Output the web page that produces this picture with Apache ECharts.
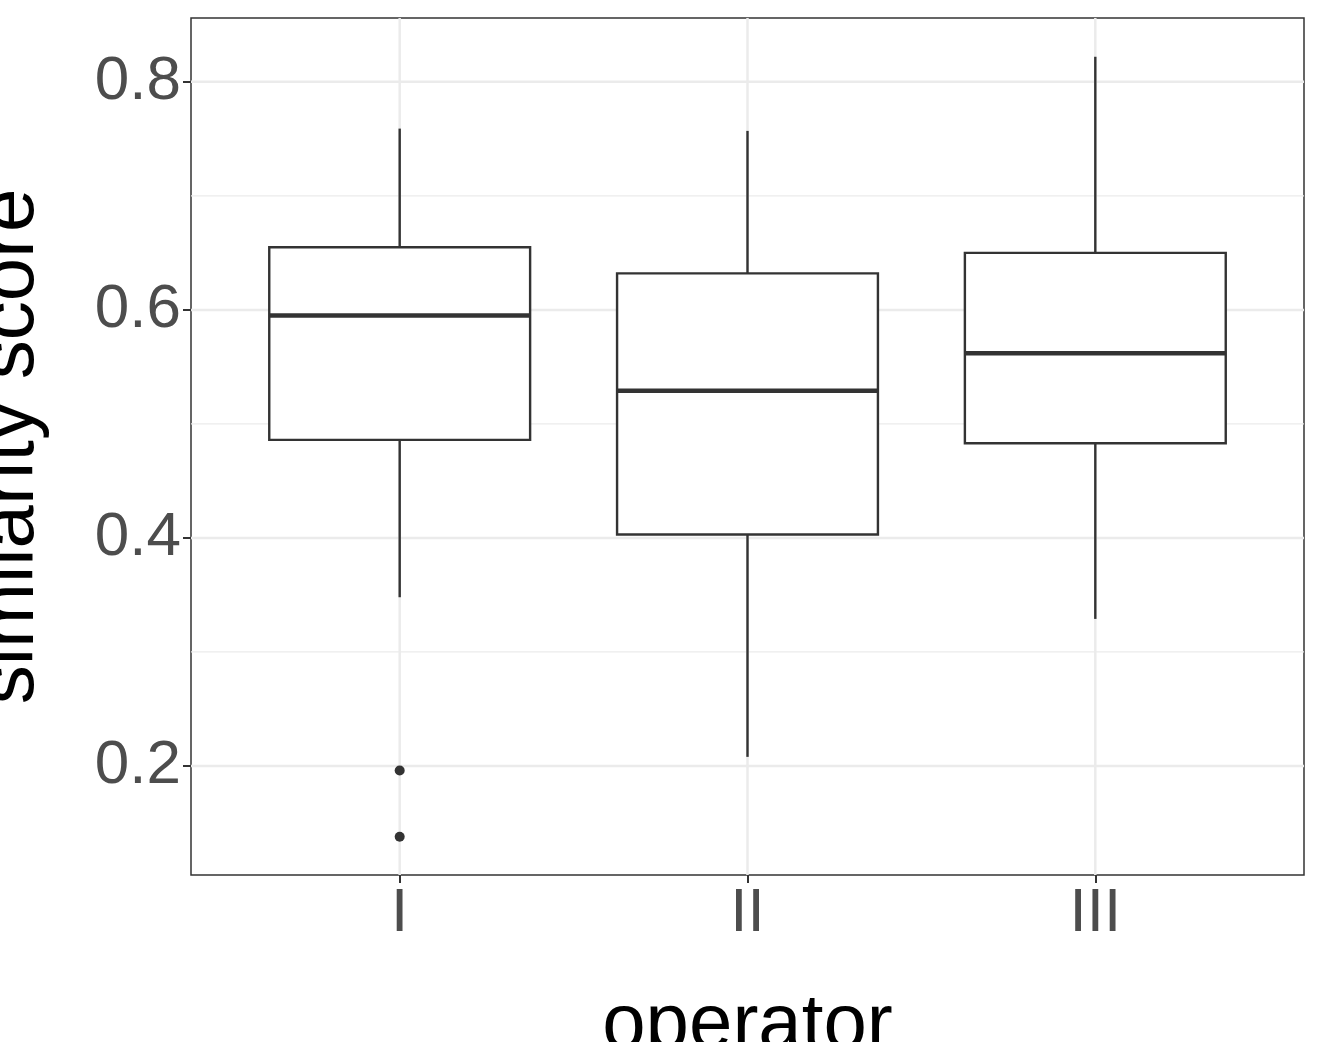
<!DOCTYPE html>
<html><head><meta charset="utf-8">
<script src="https://cdn.jsdelivr.net/npm/echarts@6/dist/echarts.min.js"></script>
<style>html,body{margin:0;background:#fff}#c{width:1320px;height:1042px}</style>
</head><body><div id="c"></div>
<script>
const categories = ['I', 'II', 'III'];
// [lower whisker, Q1, median, Q3, upper whisker]
const boxStats = [
  [0.348, 0.486, 0.595, 0.655, 0.759],
  [0.208, 0.403, 0.529, 0.632, 0.757],
  [0.329, 0.483, 0.562, 0.650, 0.822]
];
const outliers = [[1, 0.196], [1, 0.138]];
const yTicks = [0.2, 0.4, 0.6, 0.8];
const yMinor = [0.3, 0.5, 0.7];
const xMin = 0.4, xMax = 3.6, yMin = 0.1044, yMax = 0.856;

const chart = echarts.init(document.getElementById('c'));

// grid lines: [orientation, value, width]
const gridData = [];
yTicks.forEach(v => gridData.push([0, v, 2.5]));
yMinor.forEach(v => gridData.push([0, v, 1.2]));
categories.forEach((c, i) => gridData.push([1, i + 1, 2.5]));

chart.setOption({
  animation: false,
  grid: {left: 191, top: 18, width: 1113, height: 857, containLabel: false, outerBoundsMode: 'none',
    show: true, borderColor: '#333', borderWidth: 1.5, backgroundColor: 'transparent'},
  xAxis: {
    type: 'value', min: xMin, max: xMax,
    axisLine: {show: false}, splitLine: {show: false},
    axisTick: {show: true, customValues: [1, 2, 3], length: 8, lineStyle: {color: '#333', width: 2}},
    axisLabel: {customValues: [1, 2, 3], formatter: v => categories[Math.round(v) - 1], fontSize: 62, color: '#4d4d4d', fontFamily: 'Liberation Sans', margin: 8},
    name: 'operator', nameLocation: 'middle', nameGap: 112,
    nameTextStyle: {fontSize: 78, color: '#000', fontFamily: 'Liberation Sans'}
  },
  yAxis: {
    type: 'value', min: yMin, max: yMax,
    axisLine: {show: false}, splitLine: {show: false},
    axisTick: {show: true, customValues: yTicks, length: 8, lineStyle: {color: '#333', width: 2}},
    axisLabel: {customValues: yTicks, formatter: v => v.toFixed(1), fontSize: 62, color: '#4d4d4d', fontFamily: 'Liberation Sans', margin: 10},
    name: 'similarity score', nameLocation: 'middle', nameGap: 141,
    nameTextStyle: {fontSize: 78, color: '#000', fontFamily: 'Liberation Sans'}
  },
  series: [
    {
      type: 'custom', z: 1, silent: true, data: gridData,
      renderItem: (params, api) => {
        const o = api.value(0), v = api.value(1), w = api.value(2);
        const a = o === 0 ? api.coord([xMin, v]) : api.coord([v, yMin]);
        const b = o === 0 ? api.coord([xMax, v]) : api.coord([v, yMax]);
        return {type: 'line', shape: {x1: a[0], y1: a[1], x2: b[0], y2: b[1]}, style: {stroke: '#ebebeb', lineWidth: w}};
      }
    },
    {
      type: 'custom', z: 5,
      data: boxStats.map((s, i) => [i + 1].concat(s)),
      renderItem: (params, api) => {
        const x = api.value(0);
        const p = k => api.coord([x, api.value(k)]);
        const hw = api.size([0.375, 0])[0];
        const lo = p(1), q1 = p(2), med = p(3), q3 = p(4), hi = p(5);
        const st = {stroke: '#333', lineWidth: 2.4};
        return {type: 'group', children: [
          {type: 'line', shape: {x1: lo[0], y1: lo[1], x2: q1[0], y2: q1[1]}, style: st},
          {type: 'line', shape: {x1: q3[0], y1: q3[1], x2: hi[0], y2: hi[1]}, style: st},
          {type: 'rect', shape: {x: q3[0] - hw, y: q3[1], width: hw * 2, height: q1[1] - q3[1]}, style: {fill: '#fff', stroke: '#333', lineWidth: 2.4}},
          {type: 'line', shape: {x1: med[0] - hw, y1: med[1], x2: med[0] + hw, y2: med[1]}, style: {stroke: '#333', lineWidth: 4.5}}
        ]};
      }
    },
    {type: 'scatter', z: 6, data: outliers, symbolSize: 10, itemStyle: {color: '#333', opacity: 1}}
  ]
});
</script></body></html>
